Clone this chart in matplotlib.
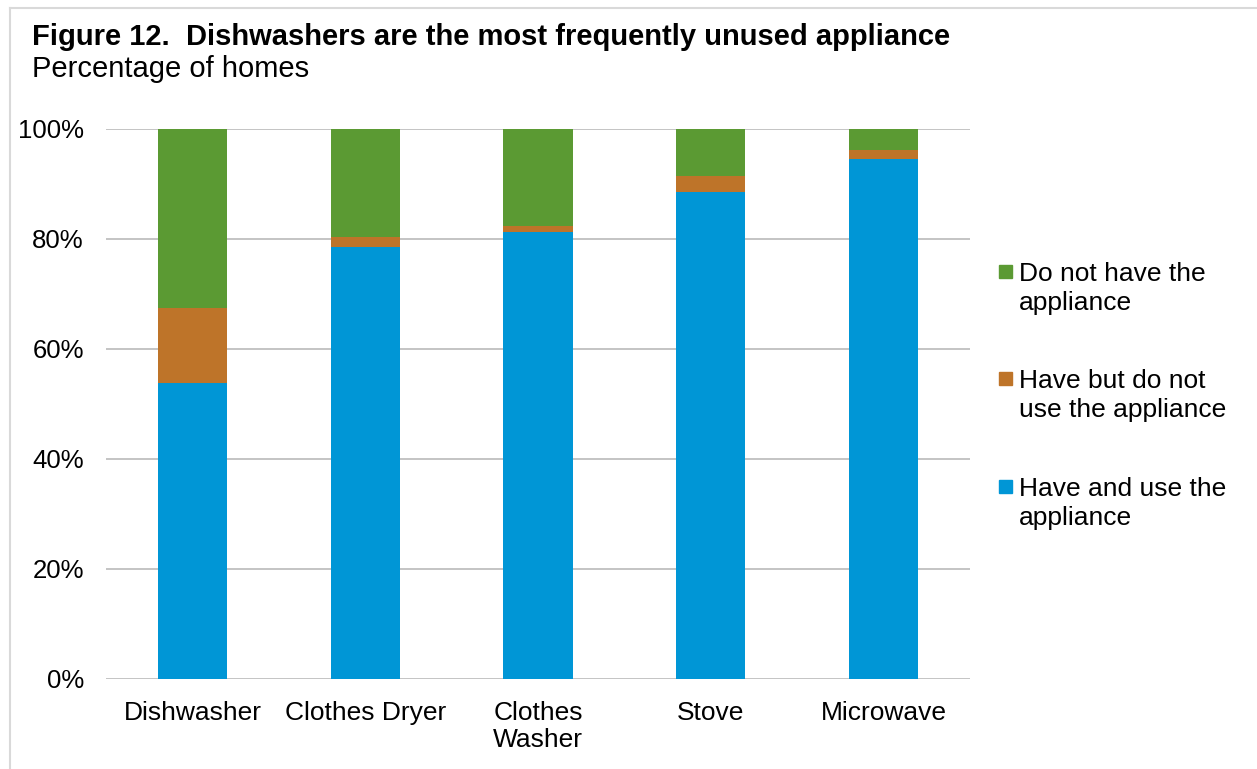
import matplotlib.pyplot as plt
from matplotlib.patches import Rectangle
from matplotlib.lines import Line2D
import numpy as np

plt.rcParams['font.family'] = ['Liberation Sans', 'DejaVu Sans']

# data (percent of homes)
categories = ["Dishwasher", "Clothes Dryer", "Clothes\nWasher", "Stove", "Microwave"]
have_use = [53.8, 78.5, 81.3, 88.5, 94.6]
have_not_use = [13.6, 1.8, 1.1, 2.9, 1.5]
do_not_have = [32.6, 19.7, 17.6, 8.6, 3.9]

series = [
    ("Have and use the\nappliance", have_use, "#0096D6"),
    ("Have but do not\nuse the appliance", have_not_use, "#BE7429"),
    ("Do not have the\nappliance", do_not_have, "#5B9A33"),
]

W, H = 1257, 769
fig = plt.figure(figsize=(W / 100, H / 100), dpi=100)
ax = fig.add_axes([106 / W, 1 - 679 / H, 864 / W, 550 / H])

x = np.arange(len(categories))
bottom = np.zeros(len(categories))
for label, vals, col in series:
    ax.bar(x, vals, width=0.4, bottom=bottom, color=col, label=label, zorder=3)
    bottom += np.array(vals)

ax.set_xlim(-0.5, len(categories) - 0.5)
ax.set_ylim(0, 100)
ax.set_yticks(np.arange(0, 101, 20))
ax.set_yticklabels(["%d%%" % v for v in range(0, 101, 20)])
ax.set_xticks(x)
ax.set_xticklabels(categories, linespacing=1.2)
ax.tick_params(axis='both', length=0, colors='black')
ax.tick_params(axis='y', pad=16, labelsize=18.5)
ax.tick_params(axis='x', pad=15.5, labelsize=19)
ax.grid(axis='y', color='#BFBFBF', linewidth=1.3, zorder=0)
for s in ax.spines.values():
    s.set_visible(False)

# titles
fig.text(32 / W, 1 - 45 / H, "Figure 12.  Dishwashers are the most frequently unused appliance",
         fontsize=21, fontweight='bold', va='baseline', ha='left')
fig.text(32 / W, 1 - 77 / H, "Percentage of homes", fontsize=21, va='baseline', ha='left')

# legend drawn by hand so the squares line up with the first text line
leg_y = [272, 379, 487]
for (label, vals, col), y in zip(series[::-1], leg_y):
    fig.patches.append(Rectangle((999 / W, 1 - (y + 6) / H), 13 / W, 13 / H,
                                 transform=fig.transFigure, color=col))
    fig.text(1019 / W, 1 - (y - 10) / H, label, fontsize=19, va='top', ha='left',
             linespacing=1.28)

# chart frame
fig.add_artist(Line2D([10 / W, 10 / W], [0, 1 - 8 / H], color='#D9D9D9', linewidth=1.5,
                      transform=fig.transFigure))
fig.add_artist(Line2D([10 / W, 1], [1 - 8 / H, 1 - 8 / H], color='#D9D9D9', linewidth=1.5,
                      transform=fig.transFigure))

fig.savefig("out.png", dpi=100)
